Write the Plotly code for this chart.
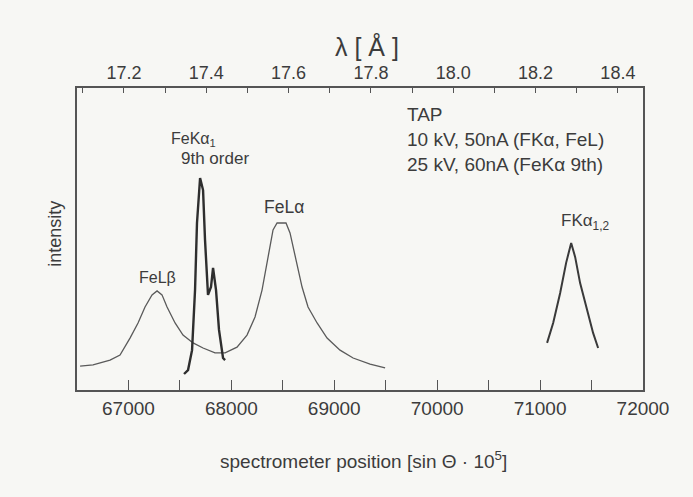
import plotly.graph_objects as go

# --- data ---
fel_x = [66530, 66656, 66821, 66918, 67015, 67093, 67161, 67229, 67278, 67326,
         67375, 67453, 67530, 67628, 67725, 67841, 67939, 68055, 68152, 68230,
         68298, 68357, 68405, 68444, 68531, 68570, 68619, 68687, 68745, 68833,
         68930, 69056, 69183, 69348, 69494]
fel_y = [7.9, 8.3, 9.9, 11.6, 17.2, 22.2, 27.5, 31.5, 32.8, 31.5,
         27.5, 22.2, 18.2, 15.6, 13.9, 12.3, 12.3, 14.2, 18.2, 24.2,
         33.1, 44.0, 53.0, 55.3, 55.3, 52.0, 44.0, 34.1, 27.5, 22.2,
         17.2, 13.2, 10.6, 8.6, 7.3]

feka_x = [67540, 67579, 67618, 67647, 67666, 67696, 67725, 67744, 67773, 67802,
          67822, 67851, 67880, 67919, 67939]
feka_y = [5.3, 6.6, 13.2, 33.1, 55.3, 70.2, 66.2, 49.7, 31.5, 34.1,
          40.4, 33.1, 19.9, 10.6, 9.9]

fk_x = [71068, 71127, 71195, 71253, 71302, 71341, 71389, 71457, 71515, 71564]
fk_y = [15.6, 22.2, 32.1, 42.1, 48.7, 44.0, 35.4, 26.5, 18.9, 13.9]

x_ticks = [67000, 68000, 69000, 70000, 71000, 72000]
lam_ticks = [17.2, 17.4, 17.6, 17.8, 18.0, 18.2, 18.4]

FONT = "Liberation Sans, Arial, Helvetica, sans-serif"
TXT = "#3c3c3c"
LINE = "#555555"
BG = "#f7f7f4"

fig = go.Figure()
fig.add_trace(go.Scatter(x=fel_x, y=fel_y, mode="lines",
                         line=dict(color="#5a5a5a", width=1.3),
                         showlegend=False, hoverinfo="skip"))
fig.add_trace(go.Scatter(x=feka_x, y=feka_y, mode="lines",
                         line=dict(color="#2e2e2e", width=2.4),
                         showlegend=False, hoverinfo="skip"))
fig.add_trace(go.Scatter(x=fk_x, y=fk_y, mode="lines",
                         line=dict(color="#3a3a3a", width=2.0),
                         showlegend=False, hoverinfo="skip"))
# invisible trace to activate the top wavelength axis
fig.add_trace(go.Scatter(x=[lam_ticks[0], lam_ticks[-1]], y=[-50, -50],
                         xaxis="x2", yaxis="y", mode="lines",
                         line=dict(color="rgba(0,0,0,0)"),
                         showlegend=False, hoverinfo="skip"))

fig.update_layout(
    width=693, height=497,
    margin=dict(l=77, r=50, t=88, b=107),
    paper_bgcolor=BG, plot_bgcolor=BG,
    font=dict(family=FONT, color=TXT),
    xaxis=dict(
        range=[66500, 72000], tickvals=x_ticks,
        ticktext=[str(v) for v in x_ticks],
        ticks="inside", ticklen=10, tickwidth=1.2, tickcolor=LINE,
        minor=dict(dtick=500, tick0=66500, ticks="inside", ticklen=10,
                   tickwidth=1.2, tickcolor=LINE),
        showline=True, linecolor=LINE, linewidth=1.8,
        showgrid=False, zeroline=False,
        tickfont=dict(size=19, color=TXT, family=FONT),
    ),
    xaxis2=dict(
        overlaying="x", side="top",
        range=[17.086, 18.461], tickvals=lam_ticks,
        ticktext=[f"{v:.1f}" for v in lam_ticks],
        ticks="inside", ticklen=5, tickwidth=1.2, tickcolor=LINE,
        minor=dict(dtick=0.1, tick0=17.0, ticks="inside", ticklen=5,
                   tickwidth=1.2, tickcolor=LINE),
        showline=True, linecolor=LINE, linewidth=1.8,
        showgrid=False, zeroline=False,
        tickfont=dict(size=18, color=TXT, family=FONT),
    ),
    yaxis=dict(
        range=[0, 100], showticklabels=False, ticks="",
        showline=True, mirror=True, linecolor=LINE, linewidth=1.8,
        showgrid=False, zeroline=False,
    ),
)

ann = []
def A(text, x, y, size=16, xref="x", yref="y", xanchor="center", angle=0):
    ann.append(dict(text=text, x=x, y=y, xref=xref, yref=yref,
                    xanchor=xanchor, yanchor="middle", showarrow=False,
                    textangle=angle,
                    font=dict(size=size, color=TXT, family=FONT)))

A("FeLβ", 67278, 37.4, size=16)
A("FeKα<sub>1</sub>", 67628, 82.8, size=16)
A("9th order", 67841, 76.8, size=17)
A("FeLα", 68512, 60.6, size=17.5)
A("FKα<sub>1,2</sub>", 71438, 55.6, size=17)
A("TAP", 69688, 91.1, size=19, xanchor="left")
A("10 kV, 50nA (FKα, FeL)", 69688, 82.8, size=19, xanchor="left")
A("25 kV, 60nA (FeKα 9th)", 69688, 74.8, size=19, xanchor="left")
A("spectrometer position [sin Θ · 10<sup>5</sup>]", 0.507, -0.232,
  size=19, xref="paper", yref="paper")
A("λ [ Å ]", 0.512, 1.136, size=25, xref="paper", yref="paper")
A("intensity", -0.039, 0.517, size=18, xref="paper", yref="paper", angle=-90)
fig.update_layout(annotations=ann)

fig.write_html("out.html")
